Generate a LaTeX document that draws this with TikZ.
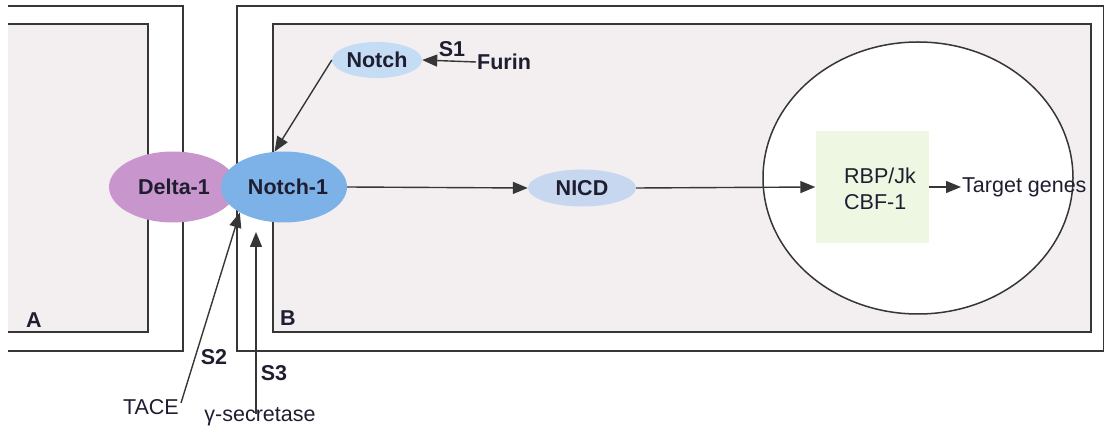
\documentclass[tikz,border=0pt]{standalone}
\usepackage{fontspec}
\setmainfont{Liberation Sans}
\usetikzlibrary{arrows.meta,shapes.geometric}

\definecolor{edge}{HTML}{363636}
\definecolor{ink}{HTML}{1E1E30}
\definecolor{cellfill}{HTML}{F3EFF1}
\definecolor{deltafill}{HTML}{C896CC}
\definecolor{notchfill}{HTML}{7DB2E8}
\definecolor{palenotch}{HTML}{C5DCF5}
\definecolor{nicdfill}{HTML}{C8D7F0}
\definecolor{rbpfill}{HTML}{EEF7E2}

\tikzset{
  wall/.style={draw=edge, line width=1.7pt},
  blob/.style={ellipse, inner sep=0pt, text=ink, font=\bfseries\fontsize{21.5}{24}\selectfont},
  lbl/.style={inner sep=1pt, text=ink, font=\fontsize{21.5}{26}\selectfont},
  blbl/.style={lbl, font=\bfseries\fontsize{21.5}{24}\selectfont},
  arr/.style={draw=edge, line width=1.4pt, -{Triangle[length=15pt,width=12pt]}},
}

\begin{document}
\begin{tikzpicture}[x=1pt, y=-1pt]
\useasboundingbox (0,0) rectangle (1104,446);

% cell A
\draw[wall] (8,6) -| (183,351) -- (8,351);
\fill[cellfill] (8,24) rectangle (148,332);
\draw[wall] (8,24) -| (148,332) -- (8,332);
\node[blbl] (labA) at (34,320) {A};

% cell B
\draw[wall] (237,6) rectangle (1104,351);
\draw[wall, fill=cellfill] (273,24) rectangle (1091,332);
\node[blbl] (labB) at (288,318) {B};

% nucleus
\node[ellipse, draw=edge, line width=1.5pt, fill=white, minimum width=310pt, minimum height=272pt] (nucleus) at (918,178) {};
\node[rectangle, fill=rbpfill, minimum width=113pt, minimum height=112pt, inner sep=0pt] (rbp) at (872,187) {};
\node[lbl, align=left] (rbptext) at (880,189) {RBP/Jk\\CBF-1};
\node[lbl, anchor=west] (target) at (961,187) {Target genes};

% receptor and ligand
\node[blob, fill=deltafill, minimum width=128pt, minimum height=71pt] (delta) at (173,187) {\hspace*{2pt}Delta-1};
\node[blob, fill=notchfill, minimum width=126pt, minimum height=71pt] (notch1) at (284,187) {\hspace*{8pt}Notch-1};
\node[blob, fill=palenotch, minimum width=90pt, minimum height=36pt] (notch) at (377,60) {Notch};
\node[blob, fill=nicdfill, minimum width=108pt, minimum height=37pt] (nicd) at (582,188) {NICD};

% enzymes
\node[blbl, anchor=west] (furin) at (476,62) {Furin};
\node[blbl] (s1) at (452,49) {S1};
\node[lbl, anchor=east] (tace) at (180,407) {TACE};
\node[blbl] (s2) at (214,357) {S2};
\node[lbl, anchor=north] (gsec) at (260,406) {γ-secretase};
\node[blbl] (s3) at (274,373) {S3};
\coordinate (s3tip) at (256,232);
\coordinate (tacefoot) at (181,403);

% signalling path
\draw[arr] (furin.west) -- (notch.east);
\draw[arr] (notch.west) -- (notch1.105);
\draw[arr] (notch1.east) -- (nicd.west);
\draw[arr] (nicd.east) -- (rbp.west);
\draw[arr] (rbp.east) -- (target.west);
\draw[arr] (tacefoot) -- (notch1.210);
\draw[arr, shorten <=-8pt] (gsec.north -| s3tip) -- (s3tip);
\end{tikzpicture}
\end{document}
